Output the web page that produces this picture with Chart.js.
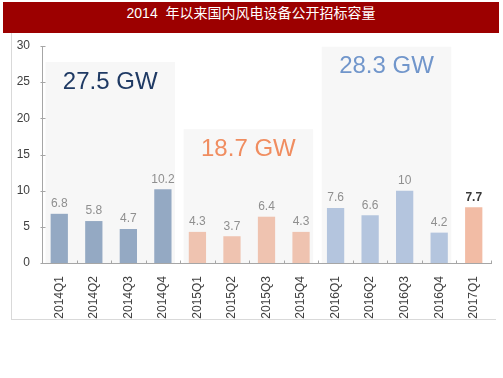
<!DOCTYPE html>
<html>
<head>
<meta charset="utf-8">
<script src="https://cdn.jsdelivr.net/npm/chart.js@4"></script>
<style>
  body { margin: 0; background: #fff; }
  #wrap { position: relative; width: 503px; height: 378px; }
  #titulo {
    position: absolute; left: 3px; top: 2px; width: 496px; height: 31px;
    background: #9c0000; color: #fff; text-align: center; line-height: 31px;
    font: 14px "Liberation Sans", "Noto Sans CJK SC", sans-serif; z-index: 2;
  }
  #moldura {
    position: absolute; left: 11px; top: 33px; width: 484px; height: 286px;
    border-left: 1px solid #d9d9d9; border-bottom: 1px solid #d9d9d9;
  }
  canvas { position: absolute; left: 0; top: 0; }
</style>
</head>
<body>
<div id="wrap">
  <div id="titulo">2014&nbsp; 年以来国内风电设备公开招标容量</div>
  <div id="moldura"></div>
  <canvas id="grafico" width="503" height="378"></canvas>
</div>
<script>
// Dados
const trimestres = ['2014Q1', '2014Q2', '2014Q3', '2014Q4', '2015Q1', '2015Q2', '2015Q3', '2015Q4',
                    '2016Q1', '2016Q2', '2016Q3', '2016Q4', '2017Q1'];
const capacidade = [6.8, 5.8, 4.7, 10.2, 4.3, 3.7, 6.4, 4.3, 7.6, 6.6, 10, 4.2, 7.7];
const yTicks = [0, 5, 10, 15, 20, 25, 30];

// Blocos anuais (índice inicial/final dos trimestres, total anual e topo do fundo cinza)
const blocoInicio = [0, 4, 8];
const blocoFim = [3, 7, 11];
const blocoTotal = ['27.5 GW', '18.7 GW', '28.3 GW'];
const blocoTopo = [27.8, 18.5, 29.9];

// Cores
const corAno = { '2014': '#94a9c3', '2015': '#efc3b0', '2016': '#b4c5de', '2017': '#f2bca5' };
const corBloco = ['#1f3a64', '#f08d60', '#7196cb'];
const corEixo = '#a6a6a6';

// Fundo cinza + totais por bloco
const pluginBlocos = {
    id: 'blocos',
    beforeDatasetsDraw(chart) {
        const { ctx, scales: { x, y } } = chart;
        ctx.save();
        blocoInicio.forEach((ini, i) => {
            const x0 = x.getPixelForValue(ini - 0.4);
            const x1 = x.getPixelForValue(blocoFim[i] + 0.35);
            const y0 = y.getPixelForValue(blocoTopo[i]);
            const y1 = y.getPixelForValue(0);
            ctx.fillStyle = '#f7f7f7';
            ctx.fillRect(x0, y0, x1 - x0, y1 - y0);

            ctx.fillStyle = corBloco[i];
            ctx.font = '24px "Liberation Sans", Arial, sans-serif';
            ctx.textAlign = 'center';
            ctx.textBaseline = 'middle';
            ctx.fillText(blocoTotal[i], (x0 + x1) / 2, y0 + 20);
        });
        ctx.restore();
    },
    afterDatasetsDraw(chart) {
        const { ctx, scales: { x, y } } = chart;
        const meta = chart.getDatasetMeta(0);
        ctx.save();
        ctx.textAlign = 'center';
        ctx.textBaseline = 'bottom';
        meta.data.forEach((bar, i) => {
            const ultimo = i === capacidade.length - 1;
            ctx.fillStyle = ultimo ? '#3a3a3a' : '#8f8f8f';
            ctx.font = (ultimo ? 'bold ' : '') + '12px "Liberation Sans", Arial, sans-serif';
            ctx.fillText(String(capacidade[i]), bar.x, bar.y - 4);
        });

        // marcas internas dos eixos
        ctx.strokeStyle = corEixo;
        ctx.lineWidth = 1;
        const base = Math.round(y.getPixelForValue(0)) + 0.5;
        for (let k = 0; k <= trimestres.length; k++) {
            const px = Math.round(x.getPixelForValue(k - 0.5)) + 0.5;
            ctx.beginPath();
            ctx.moveTo(px, base);
            ctx.lineTo(px, base - 3);
            ctx.stroke();
        }
        const esq = Math.round(x.left) + 0.5;
        yTicks.forEach(v => {
            const py = Math.round(y.getPixelForValue(v)) + 0.5;
            ctx.beginPath();
            ctx.moveTo(esq - 2, py);
            ctx.lineTo(esq + 3, py);
            ctx.stroke();
        });
        ctx.restore();
    }
};

const ctx = document.getElementById('grafico').getContext('2d');

new Chart(ctx, {
    type: 'bar',
    data: {
        labels: trimestres,
        datasets: [{
            data: capacidade,
            backgroundColor: trimestres.map(t => corAno[t.slice(0, 4)]),
            barPercentage: 0.5,
            categoryPercentage: 1
        }]
    },
    options: {
        responsive: false,
        animation: false,
        layout: { padding: { left: 0, top: 46, right: 12, bottom: 0 } },
        plugins: {
            legend: { display: false },
            tooltip: { enabled: false }
        },
        scales: {
            x: {
                grid: { display: false, drawTicks: true, tickLength: 4 },
                border: { display: true, color: corEixo },
                ticks: {
                    color: '#404040',
                    font: { family: '"Liberation Sans", Arial, sans-serif', size: 12 },
                    maxRotation: 90,
                    minRotation: 90,
                    padding: 9,
                    autoSkip: false
                },
                afterFit(scale) { scale.height = 115; }
            },
            y: {
                min: 0,
                max: 30,
                afterBuildTicks(scale) { scale.ticks = yTicks.map(v => ({ value: v })); },
                grid: { display: false, drawTicks: true, tickLength: 4 },
                border: { display: true, color: corEixo },
                ticks: {
                    color: '#404040',
                    font: { family: '"Liberation Sans", Arial, sans-serif', size: 12 },
                    padding: 8
                },
                afterFit(scale) { scale.width = 42; }
            }
        }
    },
    plugins: [pluginBlocos]
});
</script>
</body>
</html>
